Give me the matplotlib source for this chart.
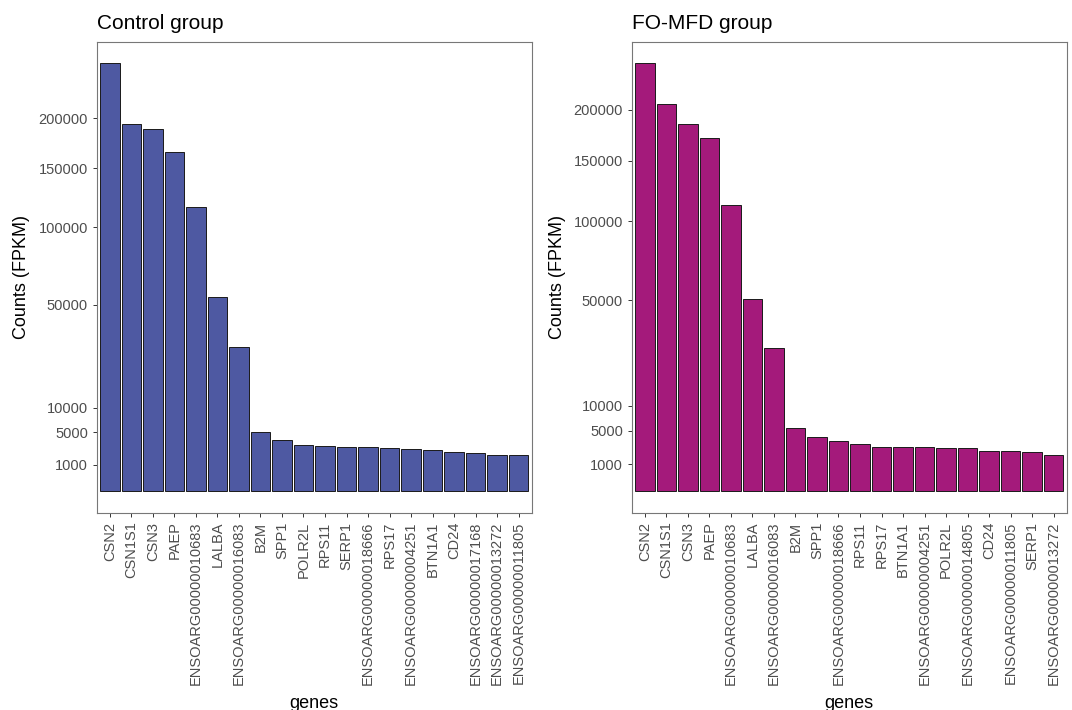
import numpy as np
import matplotlib
matplotlib.use("Agg")
import matplotlib.pyplot as plt

plt.rcParams['font.family'] = ['Liberation Sans', 'DejaVu Sans']

# Control group (FPKM), ordered as plotted
ctrl_genes = ['CSN2', 'CSN1S1', 'CSN3', 'PAEP', 'ENSOARG00000010683', 'LALBA',
              'ENSOARG00000016083', 'B2M', 'SPP1', 'POLR2L', 'RPS11', 'SERP1',
              'ENSOARG00000018666', 'RPS17', 'ENSOARG00000004251', 'BTN1A1', 'CD24',
              'ENSOARG00000017168', 'ENSOARG00000013272', 'ENSOARG00000011805']
ctrl_counts = [263500, 193500, 189000, 165500, 116100, 54400, 29800, 4990, 3780, 3090,
               2910, 2790, 2740, 2660, 2540, 2420, 2230, 2050, 1870, 1840]

# FO-MFD group
fo_genes = ['CSN2', 'CSN1S1', 'CSN3', 'PAEP', 'ENSOARG00000010683', 'LALBA',
            'ENSOARG00000016083', 'B2M', 'SPP1', 'ENSOARG00000018666', 'RPS11', 'RPS17',
            'BTN1A1', 'ENSOARG00000004251', 'POLR2L', 'ENSOARG00000014805', 'CD24',
            'ENSOARG00000011805', 'SERP1', 'ENSOARG00000013272']
fo_counts = [251800, 205500, 185500, 171400, 112700, 50700, 28100, 5400, 4070, 3450,
             3100, 2720, 2680, 2640, 2560, 2520, 2250, 2180, 2070, 1830]

yticks = [1000, 5000, 10000, 50000, 100000, 150000, 200000]


def fwd(v):
    v = np.asarray(v, dtype=float)
    return np.sign(v) * np.sqrt(np.abs(v))


def inv(v):
    v = np.asarray(v, dtype=float)
    return np.sign(v) * v ** 2


W, H = 1072, 710
fig = plt.figure(figsize=(W / 100, H / 100), dpi=100)

panels = [
    (ctrl_genes, ctrl_counts, '#4E59A2', 'Control group', 97, 531.5, 21.5),
    (fo_genes, fo_counts, '#A41A7B', 'FO-MFD group', 632, 1066.5, 557),
]
top_px, bot_px = 41.7, 512.5

for genes, counts, col, title, lpx, rpx, ylab_x in panels:
    ax = fig.add_axes([lpx / W, 1 - bot_px / H, (rpx - lpx) / W, (bot_px - top_px) / H])
    x = np.arange(len(genes))
    ax.bar(x, counts, width=0.9, color=col, edgecolor='#1a1a1a', linewidth=0.7)
    ax.set_yscale('function', functions=(fwd, inv))
    smax = np.sqrt(max(counts))
    ax.set_ylim(-(0.05 * smax) ** 2, (1.05 * smax) ** 2)
    ax.set_xlim(-0.6, len(genes) - 0.4)
    ax.set_yticks(yticks)
    ax.set_yticklabels([str(t) for t in yticks])
    ax.set_xticks(x)
    ax.set_xticklabels(genes, rotation=90, ha='center', va='top')
    ax.tick_params(axis='both', colors='#333333', labelcolor='#4D4D4D',
                   labelsize=10.5, length=3, width=0.7, pad=3.5)
    ax.minorticks_off()
    for s in ax.spines.values():
        s.set_color('#777777')
        s.set_linewidth(0.8)
    ax.set_title(title, loc='left', fontsize=15, pad=9.5, color='black')
    fig.text(ylab_x / W, 1 - 277 / H, 'Counts (FPKM)', rotation=90,
             ha='center', va='center', fontsize=13)
    fig.text((lpx + rpx) / 2 / W, 1 - 708 / H, 'genes', ha='center',
             va='baseline', fontsize=13)

fig.savefig('out.png', dpi=100)
